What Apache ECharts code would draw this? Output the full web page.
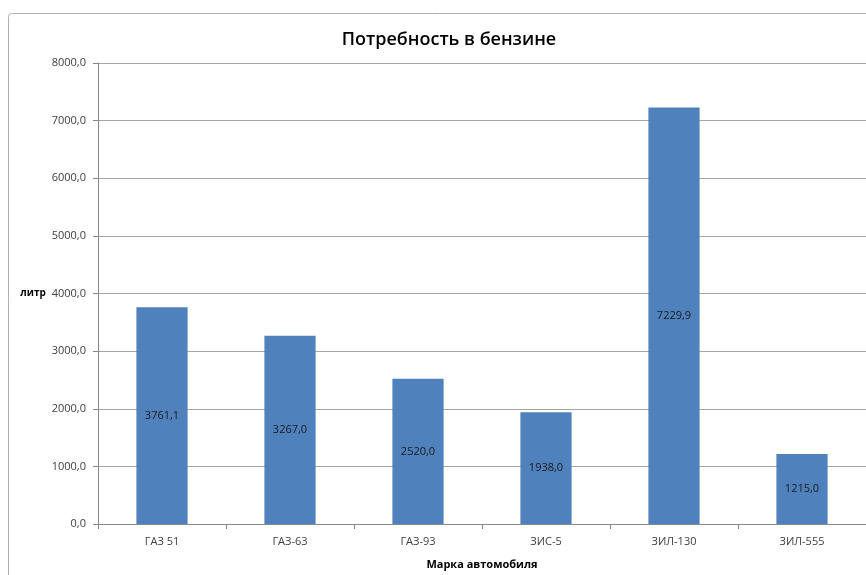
<!DOCTYPE html>
<html>
<head>
<meta charset="utf-8">
<script src="https://cdn.jsdelivr.net/npm/echarts@6/dist/echarts.min.js"></script>
<style>
html,body{margin:0;padding:0;background:#fff;}
#main{width:866px;height:575px;}
</style>
</head>
<body>
<div id="main"></div>
<script>
var categories = ['ГАЗ 51', 'ГАЗ-63', 'ГАЗ-93', 'ЗИС-5', 'ЗИЛ-130', 'ЗИЛ-555'];
var values = [3761.1, 3267.0, 2520.0, 1938.0, 7229.9, 1215.0];
var titleText = 'Потребность в бензине';
var xName = 'Марка автомобиля';
var yName = 'литр';

function fmt(v) { return Number(v).toFixed(1).replace('.', ','); }

var chart = echarts.init(document.getElementById('main'), null, {renderer: 'canvas'});
chart.setOption({
  animation: false,
  backgroundColor: '#ffffff',
  graphic: [{
    type: 'rect', silent: true, z: -1,
    shape: {x: 8.5, y: 13.5, width: 900, height: 600, r: 3},
    style: {fill: '#ffffff', stroke: '#b0b0b0', lineWidth: 1}
  }],
  title: {
    text: titleText, top: 26, left: 444,
    textAlign: 'center',
    textStyle: {fontFamily: 'Open Sans', fontSize: 18, fontWeight: 600, color: '#000'}
  },
  grid: {left: 98, right: 0, top: 63, bottom: 50, containLabel: false},
  xAxis: {
    type: 'category', data: categories,
    name: xName, nameLocation: 'middle', nameGap: 35,
    nameTextStyle: {fontFamily: 'Open Sans', fontSize: 11, fontWeight: 'bold', color: '#000'},
    axisLine: {show: true, lineStyle: {color: '#888888', width: 1}},
    axisTick: {show: true, alignWithLabel: false, length: 5, lineStyle: {color: '#888888'}},
    axisLabel: {fontFamily: 'Open Sans', fontSize: 11, color: '#404040', margin: 12}
  },
  yAxis: {
    type: 'value', min: 0, max: 8000, interval: 1000,
    name: yName, nameLocation: 'middle', nameRotate: 0, nameGap: 48,
    nameTextStyle: {fontFamily: 'Open Sans', fontSize: 10, fontWeight: 'bold', color: '#000'},
    axisLine: {show: true, lineStyle: {color: '#888888', width: 1}},
    axisTick: {show: true, length: 5, lineStyle: {color: '#888888'}},
    axisLabel: {fontFamily: 'Open Sans', fontSize: 11, color: '#404040', margin: 12, formatter: fmt},
    splitLine: {show: true, lineStyle: {color: '#a6a6a6', width: 1}}
  },
  series: [{
    type: 'bar', data: values, barWidth: '40%',
    itemStyle: {color: '#4F81BD'},
    label: {
      show: true, position: 'inside',
      fontFamily: 'Open Sans', fontSize: 11, color: '#1a1a1a',
      formatter: function(p){ return fmt(p.value); }
    }
  }]
});
</script>
</body>
</html>
